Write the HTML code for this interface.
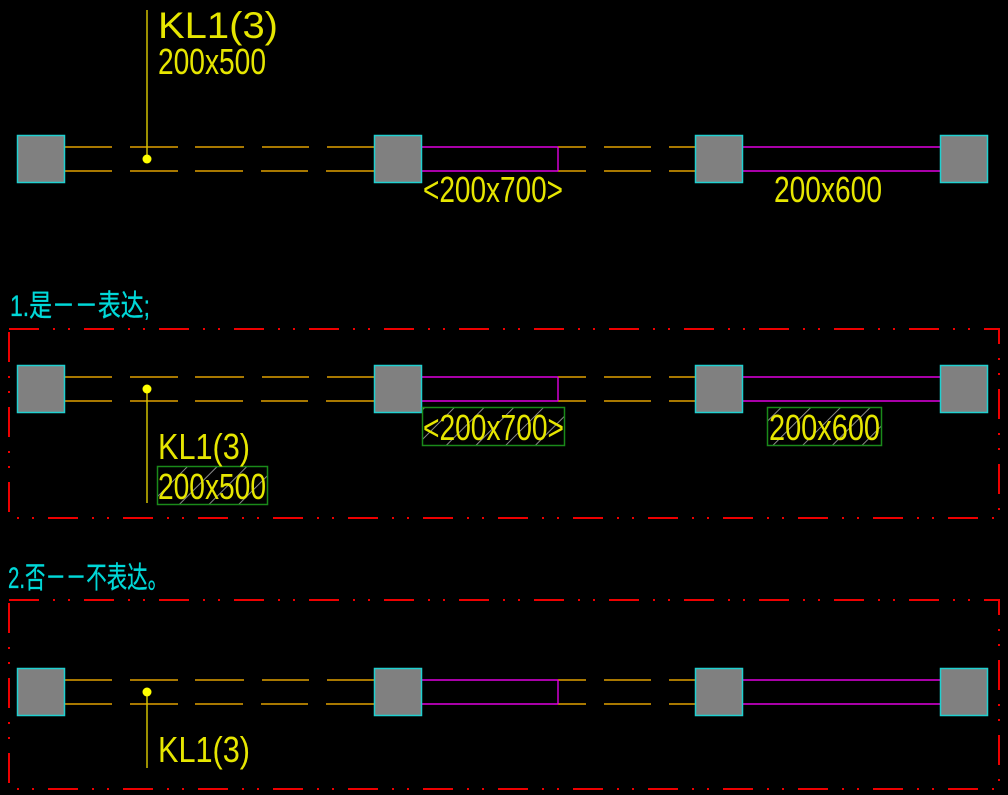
<!DOCTYPE html>
<html><head><meta charset="utf-8"><style>
html,body{margin:0;padding:0;background:#000;width:1008px;height:795px;overflow:hidden}
svg{display:block}
.y{fill:#e6e600;font-family:"Liberation Sans",sans-serif;font-size:36px}
.c{fill:#00d8d8;font-family:"Liberation Sans","Noto Sans CJK SC",sans-serif;font-size:30px;stroke:#00d8d8;stroke-width:0.3}
</style></head><body>
<svg width="1008" height="795" viewBox="0 0 1008 795" xmlns="http://www.w3.org/2000/svg">
<defs>
<pattern id="h" patternUnits="userSpaceOnUse" width="21" height="21" patternTransform="rotate(45)">
<rect width="21" height="21" fill="#000"/>
<line x1="0" y1="0" x2="0" y2="21" stroke="#9a9a9a" stroke-width="1.8"/>
</pattern>
<g id="row">
<g stroke="#e0a000" stroke-width="1.4">
<line x1="65" y1="12" x2="112" y2="12"/><line x1="65" y1="36" x2="112" y2="36"/>
<line x1="130" y1="12" x2="178" y2="12"/><line x1="130" y1="36" x2="178" y2="36"/>
<line x1="195" y1="12" x2="244" y2="12"/><line x1="195" y1="36" x2="243" y2="36"/>
<line x1="262" y1="12" x2="309" y2="12"/><line x1="261" y1="36" x2="308" y2="36"/>
<line x1="327" y1="12" x2="374" y2="12"/><line x1="326" y1="36" x2="374" y2="36"/>
<line x1="558" y1="12" x2="586" y2="12"/><line x1="558" y1="36" x2="586" y2="36"/>
<line x1="604" y1="12" x2="651" y2="12"/><line x1="604" y1="36" x2="651" y2="36"/>
<line x1="669" y1="12" x2="695" y2="12"/><line x1="669" y1="36" x2="695" y2="36"/>
</g>
<g stroke="#e000e0" stroke-width="1.4">
<line x1="422" y1="12" x2="558" y2="12"/><line x1="422" y1="36" x2="558" y2="36"/>
<line x1="558" y1="12" x2="558" y2="36"/>
<line x1="743" y1="12" x2="940" y2="12"/><line x1="743" y1="36" x2="940" y2="36"/>
</g>
<g fill="#808080" stroke="#20d0d0" stroke-width="1.5">
<rect x="17.5" y="0.5" width="47" height="47"/>
<rect x="374.5" y="0.5" width="47" height="47"/>
<rect x="695.5" y="0.5" width="47" height="47"/>
<rect x="940.5" y="0.5" width="47" height="47"/>
</g>
</g>
</defs>

<use href="#row" x="0" y="135"/>
<line x1="147" y1="10" x2="147" y2="159" stroke="#d0c000" stroke-width="1.5"/>
<circle cx="147" cy="159" r="4.5" fill="#ffff00"/>
<text class="y" x="158" y="38" textLength="120" lengthAdjust="spacingAndGlyphs" style="font-size:37px">KL1(3)</text>
<text class="y" x="158" y="74" textLength="108" lengthAdjust="spacingAndGlyphs">200x500</text>
<text class="y" x="423" y="202" textLength="140" lengthAdjust="spacingAndGlyphs">&lt;200x700&gt;</text>
<text class="y" x="774" y="202" textLength="108" lengthAdjust="spacingAndGlyphs">200x600</text>

<text class="c" x="10" y="316" textLength="140" lengthAdjust="spacingAndGlyphs">1.是－－表达;</text>

<rect x="9" y="329" width="990" height="189" fill="none" stroke="#ee0000" stroke-width="2" stroke-dasharray="30 14 2 13 2 14"/>
<use href="#row" x="0" y="365"/>
<rect x="422.5" y="407.5" width="142" height="38" fill="url(#h)" stroke="#1a8a1a" stroke-width="1.5"/>
<rect x="767.5" y="407.5" width="114" height="38" fill="url(#h)" stroke="#1a8a1a" stroke-width="1.5"/>
<rect x="157.5" y="466.5" width="110" height="38" fill="url(#h)" stroke="#1a8a1a" stroke-width="1.5"/>
<line x1="147" y1="389" x2="147" y2="503" stroke="#d0c000" stroke-width="1.5"/>
<circle cx="147" cy="389" r="4.5" fill="#ffff00"/>
<text class="y" x="423" y="440" textLength="141" lengthAdjust="spacingAndGlyphs">&lt;200x700&gt;</text>
<text class="y" x="769" y="440" textLength="111" lengthAdjust="spacingAndGlyphs">200x600</text>
<text class="y" x="158" y="459" textLength="92" lengthAdjust="spacingAndGlyphs">KL1(3)</text>
<text class="y" x="158" y="499" textLength="108" lengthAdjust="spacingAndGlyphs">200x500</text>

<text class="c" x="8" y="588" textLength="160" lengthAdjust="spacingAndGlyphs">2.否－－不表达。</text>

<rect x="9" y="600" width="990" height="189" fill="none" stroke="#ee0000" stroke-width="2" stroke-dasharray="30 14 2 13 2 14"/>
<use href="#row" x="0" y="668"/>
<line x1="147" y1="691" x2="147" y2="768" stroke="#d0c000" stroke-width="1.5"/>
<circle cx="147" cy="692" r="4.5" fill="#ffff00"/>
<text class="y" x="158" y="762" textLength="92" lengthAdjust="spacingAndGlyphs">KL1(3)</text>
</svg>
</body></html>
